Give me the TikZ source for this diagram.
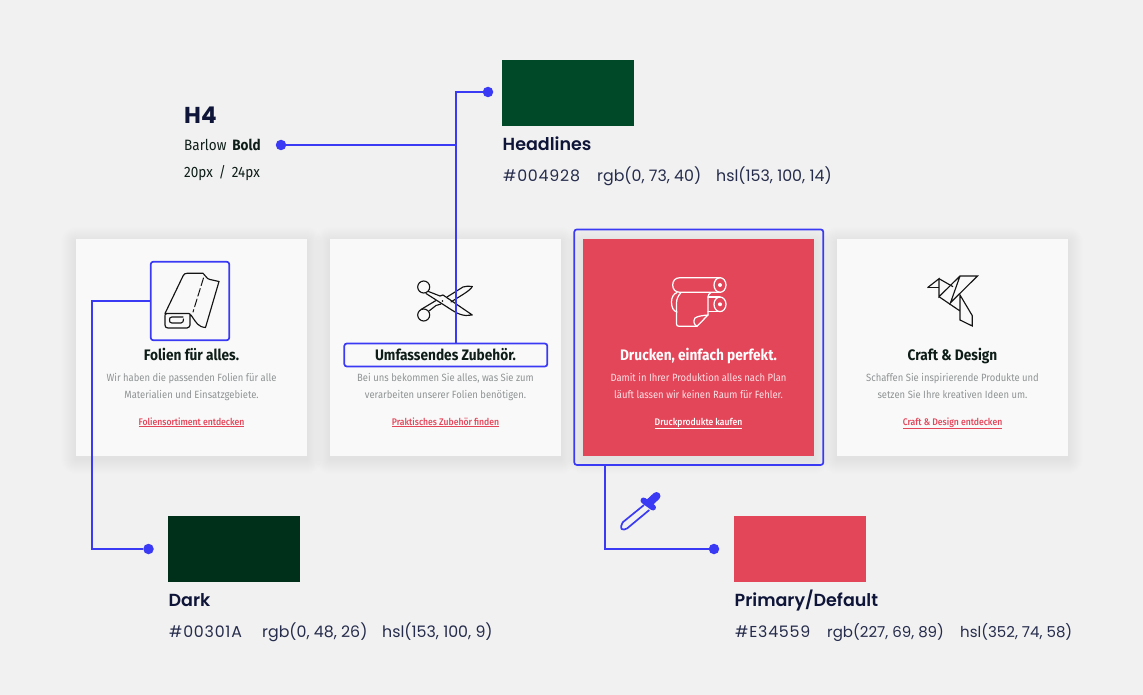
\documentclass[tikz,border=0pt]{standalone}
\usepackage{fontspec}
\setmainfont{Fira Sans}
\newfontfamily\barlow[FakeStretch=0.9]{Fira Sans}
\newfontfamily\barlowmed[FakeStretch=0.9]{Fira Sans Medium}
\newfontfamily\heading{Poppins}
\newfontfamily\headingsemi{Poppins SemiBold}
\newfontfamily\headinghex[LetterSpace=5]{Poppins}
\definecolor{bgc}{HTML}{F1F1F1}
\definecolor{cardc}{HTML}{F9F9F9}
\definecolor{wirec}{HTML}{3A3AF5}
\definecolor{primc}{HTML}{E34559}
\definecolor{headc}{HTML}{004928}
\definecolor{darkc}{HTML}{00301A}
\definecolor{titlec}{HTML}{0E1D18}
\definecolor{bodyc}{HTML}{8F9394}
\definecolor{navyc}{HTML}{0E1538}
\tikzset{
  x=1pt,y=-1pt,
  cardbox/.style={fill=cardc,draw=none,inner sep=0pt,minimum width=231pt,minimum height=217pt},
  swatch/.style={draw=none,inner sep=0pt,minimum width=132pt,minimum height=66pt},
  wire/.style={draw=wirec,line width=1.5pt},
  wdot/.style={circle,fill=wirec,draw=none,inner sep=0pt,minimum size=10.5pt},
  hlbox/.style={draw=wirec,line width=1.7pt,rounded corners=2.5pt,inner sep=0pt},
  ctitle/.style={anchor=base,inner sep=0pt,font=\barlow\fontsize{15.2}{17}\selectfont\bfseries,text=titlec},
  cbody/.style={anchor=base,inner sep=0pt,font=\barlow\fontsize{10.5}{17}\selectfont,text=bodyc,align=center},
  clink/.style={anchor=base,inner sep=0pt,font=\barlowmed\fontsize{9.6}{11}\selectfont,text=primc},
  swname/.style={anchor=base west,inner sep=0pt,font=\headingsemi\fontsize{17.5}{20}\selectfont,text=navyc},
  swval/.style={anchor=base west,inner sep=0pt,font=\heading\fontsize{15.8}{18}\selectfont,text=navyc!90},
  swvaltight/.style={swval,font=\heading\fontsize{15}{18}\selectfont},
  swhex/.style={anchor=base west,inner sep=0pt,font=\headinghex\fontsize{15.8}{18}\selectfont,text=navyc!90},
  ticon/.style={draw=black!92,line width=1.15pt,line join=round,line cap=round},
  wicon/.style={draw=white,line width=1.25pt,line join=round,line cap=round},
}
\begin{document}
\begin{tikzpicture}
\fill[bgc] (0,0) rectangle (1143,695);
\useasboundingbox (0,0) rectangle (1143,695);
% shadows
\foreach \cx in {76,330,583,837}{
  \foreach \s in {15,14,...,1}{
    \fill[black,opacity=0.0035,rounded corners=\s pt] (\cx-\s,239-\s+3) rectangle (\cx+231+\s,456+\s+3);
  }
}
% cards
\node[cardbox] (card1) at (191.5,347.5) {};
\node[cardbox] (card2) at (445.5,347.5) {};
\node[cardbox,fill=primc] (card3) at (698.5,347.5) {};
\node[cardbox] (card4) at (952.5,347.5) {};
% card texts
\node[ctitle] (t1) at (191.5,360) {Folien für alles.};
\node[cbody] (b1a) at (191.5,381.5) {Wir haben die passenden Folien für alle};
\node[cbody] (b1b) at (191.5,398.5) {Materialien und Einsatzgebiete.};
\node[clink] (l1) at (191.5,425) {\underline{Foliensortiment entdecken}};
\node[ctitle] (t2) at (445.5,360) {Umfassendes Zubehör.};
\node[cbody] (b2a) at (445.5,381.5) {Bei uns bekommen Sie alles, was Sie zum};
\node[cbody] (b2b) at (445.5,398.5) {verarbeiten unserer Folien benötigen.};
\node[clink] (l2) at (445.5,425) {\underline{Praktisches Zubehör finden}};
\node[ctitle,text=white] (t3) at (698.5,360) {Drucken, einfach perfekt.};
\node[cbody,text=white!85!primc] (b3a) at (698.5,381.5) {Damit in Ihrer Produktion alles nach Plan};
\node[cbody,text=white!85!primc] (b3b) at (698.5,398.5) {läuft lassen wir keinen Raum für Fehler.};
\node[clink,text=white] (l3) at (698.5,425) {\underline{Druckprodukte kaufen}};
\node[ctitle] (t4) at (952.5,360) {Craft \& Design};
\node[cbody] (b4a) at (952.5,381.5) {Schaffen Sie inspirierende Produkte und};
\node[cbody] (b4b) at (952.5,398.5) {setzen Sie Ihre kreativen Ideen um.};
\node[clink] (l4) at (952.5,425) {\underline{Craft \& Design entdecken}};
% foil icon
\draw[ticon] (165,313.5) -- (183,276) .. controls (184,274) and (185,273.3) .. (187,273.3) -- (203,273.3)
  .. controls (206,275) and (206,279) .. (210,279.5) -- (219,281.5) -- (205.5,327.5)
  .. controls (198,327) and (196,322) .. (193,318) .. controls (192,316) and (191,315) .. (189,313.5) -- (167,313.5)
  .. controls (165,313.5) and (165,315) .. (165,316) -- (165,325) .. controls (165,327) and (166,328) .. (168,328)
  -- (187,328) .. controls (189,328) and (190,326) .. (190,325) -- (190,314);
\draw[ticon] (183,317) -- (172,317) .. controls (170,317) and (169.5,318) .. (169.5,320) .. controls (169.5,322) and (170,323) .. (172,323) -- (181,323) .. controls (183,323) and (183.5,321) .. (183.5,319);
\draw[ticon,line width=1pt,dash pattern=on 8pt off 3pt] (203.5,278) -- (193,312);
% scissors icon
\draw[ticon] (423.7,287) circle (6pt);
\draw[ticon] (423.7,315) circle (6pt);
\draw[ticon] (428.5,291.5) -- (440,296) -- (443,295) -- (472.3,315) -- (466,315.5) .. controls (458,315) and (452,310) .. (444,305) -- (426,293.5);
\draw[ticon] (429,311) -- (436,305.5) -- (441,304);
\draw[ticon] (421,309.5) -- (436,300.5);
\draw[ticon] (447,297) -- (463,287) .. controls (466,286) and (469,286) .. (472.3,286.5) .. controls (470,291) and (460,296) .. (451,302);
\fill[black] (442.5,301) circle (0.8pt);
% rolls icon
\draw[wicon] (720,277.7) -- (680,277.7) .. controls (675,277.7) and (672.7,281) .. (672.7,285) .. controls (672.7,289) and (675,292.3) .. (680,292.3) -- (720,292.3);
\draw[wicon] (720,285) ellipse (6pt and 7.3pt);
\draw[wicon] (720,304.3) ellipse (6pt and 7.3pt);
\fill[white] (720,285) circle (2pt);
\fill[white] (720,304.3) circle (2pt);
\draw[wicon] (677,292.5) .. controls (673,294) and (671.5,298) .. (671.5,302) .. controls (671.5,307) and (673,311) .. (677,312);
\draw[wicon] (681,292.5) .. controls (678,296) and (676.5,299) .. (676.5,303) -- (676.5,324) .. controls (676.5,325.5) and (677.5,326.3) .. (679,326.3) -- (697,326.3) -- (708,315) -- (708,297) .. controls (708,295) and (709,293.5) .. (711,292.5);
\draw[wicon] (697,326.3) .. controls (694,325) and (693,321) .. (695,318) .. controls (698,316) and (703,315.5) .. (708,315);
\draw[wicon] (708,311.6) -- (720,311.6);
\draw[wicon] (708,297) -- (720,297);
% bird icon
\draw[ticon,line cap=butt,line join=miter] (927.5,287.7) -- (939,278.7) -- (939,296.7) -- (960,276) -- (977.5,276) -- (950.5,302.7) -- (960,276);
\draw[ticon,line cap=butt,line join=miter] (927.5,287.7) -- (939,287.7);
\draw[ticon,line cap=butt,line join=miter] (939,278.7) -- (953,286.7);
\draw[ticon,line cap=butt,line join=miter] (939,296.7) -- (960,311) -- (960,295) -- (972.3,315.7) -- (972.3,326) -- (960,320) -- (960,311);
% swatches
\node[swatch,fill=headc] (swH) at (568,93) {};
\node[swatch,fill=darkc] (swD) at (234,549) {};
\node[swatch,fill=primc] (swP) at (800,549) {};
\node[swname] (nH) at (502.5,150.5) {Headlines};
\node[swhex] (h1) at (503,181.5) {\#004928};
\node[swval] (h2) at (597,181.5) {rgb(0, 73, 40)};
\node[swval] (h3) at (716,181.5) {hsl(153, 100, 14)};
\node[swname] (nD) at (168.5,606.5) {Dark};
\node[swhex] (d1) at (169,637.5) {\#00301A};
\node[swval] (d2) at (262,637.5) {rgb(0, 48, 26)};
\node[swval] (d3) at (382,637.5) {hsl(153, 100, 9)};
\node[swname] (nP) at (734.5,606.5) {Primary/Default};
\node[swhex] (p1) at (735,637.5) {\#E34559};
\node[swvaltight] (p2) at (827,637.5) {rgb(227, 69, 89)};
\node[swvaltight] (p3) at (960,637.5) {hsl(352, 74, 58)};
% H4 block
\node[anchor=base west,inner sep=0pt,font=\heading\fontsize{23}{26}\selectfont\bfseries,text=navyc] (h4) at (184,124) {H4};
\node[anchor=base west,inner sep=0pt,font=\barlow\fontsize{15}{17}\selectfont,text=titlec] (h4a) at (184,151) {Barlow\hspace{6pt}\textbf{Bold}};
\node[anchor=base west,inner sep=0pt,font=\barlow\fontsize{15}{17}\selectfont,text=titlec] (h4b) at (184,178) {20px\hspace{6pt}/\hspace{6pt}24px};
% highlight boxes
\node[hlbox,minimum width=78.5pt,minimum height=78.5pt] (folbox) at (190,301) {};
\node[hlbox,minimum width=203pt,minimum height=23pt] (umbox) at (445.8,355) {};
\node[hlbox,minimum width=249pt,minimum height=235.5pt] (drbox) at (698.8,347.2) {};
% dots and connectors
\node[wdot] (dotH4) at (281,145) {};
\node[wdot] (dotHead) at (488,92) {};
\node[wdot] (dotDark) at (148.5,549) {};
\node[wdot] (dotPrim) at (714,549) {};
\coordinate (junc) at (456,145);
\coordinate (juncTop) at (456,92);
\coordinate (bendA) at (92,301);
\coordinate (bendB) at (92,549);
\coordinate (bendC) at (605,549);
\draw[wire] (dotH4) -- (junc);
\draw[wire] (dotHead) -- (juncTop) -- (junc |- umbox.north);
\draw[wire] (folbox.west) -- (bendA) -- (bendB) -- (dotDark);
\draw[wire] (bendC |- drbox.south) -- (bendC) -- (dotPrim);
% pipette
\draw[wirec,line width=1.7pt,line join=round] (644,505) -- (622.7,522.3) .. controls (621,525) and (620.5,528) .. (621.5,529) .. controls (623,530) and (625,529.5) .. (627,528.5) -- (649.3,510);
\draw[wirec,line width=6pt,line cap=round] (643.5,500.5) -- (653,507.5);
\draw[wirec,line width=8pt,line cap=round] (649,503) -- (656.5,496);
\end{tikzpicture}
\end{document}
